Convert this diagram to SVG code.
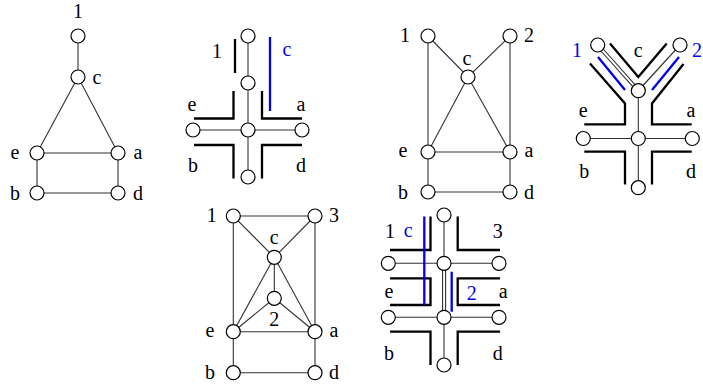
<svg xmlns="http://www.w3.org/2000/svg" width="703" height="388" viewBox="0 0 703 388" font-family="'Liberation Serif', 'Times New Roman', 'DejaVu Serif', serif">
<style>
.e{stroke:#333;stroke-width:1.1;fill:none}
.t{stroke:#000;stroke-width:2.3;fill:none}
.bl{stroke:#0000ee;stroke-width:2.3;fill:none}
.n{fill:#fff;stroke:#000;stroke-width:1.2}
text{font-family:'Liberation Serif','Times New Roman','DejaVu Serif',serif;font-size:20px;fill:#000;text-anchor:middle}
text.b{fill:#0000ee}
</style>
<rect width="703" height="388" fill="#fff"/>

<!-- Diagram 1 -->
<g id="d1-edges">
<path class="e" d="M78 36V77L37 153M78 77L118 153M37 153H118M37 153V193H118V153"/>
</g>
<g id="d1-n1"><circle class="n" cx="78" cy="36" r="7"/><text x="78" y="18">1</text></g>
<g id="d1-c"><circle class="n" cx="78" cy="77" r="7"/><text x="97" y="84">c</text></g>
<g id="d1-e"><circle class="n" cx="37" cy="153" r="7"/><text x="15" y="159">e</text></g>
<g id="d1-a"><circle class="n" cx="118" cy="153" r="7"/><text x="138" y="159">a</text></g>
<g id="d1-b"><circle class="n" cx="37" cy="193" r="7"/><text x="15" y="200">b</text></g>
<g id="d1-d"><circle class="n" cx="118" cy="193" r="7"/><text x="138" y="200">d</text></g>

<!-- Diagram 2 -->
<g id="d2-edges">
<path class="e" d="M248 36V177M193 130H302"/>
<path class="t" d="M235 39V73M233.5 91V118.5H194M262 91V118.5H302M194 145H233.5V178.5M302 145H262V178.5"/>
<path class="bl" d="M270 37V111"/>
</g>
<g id="d2-top"><circle class="n" cx="248" cy="36" r="7"/></g>
<g id="d2-mid"><circle class="n" cx="248" cy="83" r="7"/></g>
<g id="d2-center"><circle class="n" cx="248" cy="130" r="7"/></g>
<g id="d2-left"><circle class="n" cx="193" cy="130" r="7"/></g>
<g id="d2-right"><circle class="n" cx="302" cy="130" r="7"/></g>
<g id="d2-bottom"><circle class="n" cx="248" cy="177" r="7"/></g>
<g id="d2-labels">
<text x="217" y="58">1</text><text class="b" x="287" y="56">c</text>
<text x="192" y="111">e</text><text x="301" y="111">a</text>
<text x="193" y="172">b</text><text x="301" y="172">d</text>
</g>

<!-- Diagram 3 -->
<g id="d3-edges">
<path class="e" d="M428 36V192H510V36L468 77L428 36M468 77L428 152M468 77L510 152M428 152H510"/>
</g>
<g id="d3-n1"><circle class="n" cx="428" cy="36" r="7"/><text x="405" y="42">1</text></g>
<g id="d3-n2"><circle class="n" cx="510" cy="36" r="7"/><text x="529" y="42">2</text></g>
<g id="d3-c"><circle class="n" cx="468" cy="77" r="7"/><text x="467" y="65">c</text></g>
<g id="d3-e"><circle class="n" cx="428" cy="152" r="7"/><text x="403" y="157">e</text></g>
<g id="d3-a"><circle class="n" cx="510" cy="152" r="7"/><text x="529" y="157">a</text></g>
<g id="d3-b"><circle class="n" cx="428" cy="192" r="7"/><text x="403" y="199">b</text></g>
<g id="d3-d"><circle class="n" cx="510" cy="192" r="7"/><text x="529" y="199">d</text></g>

<!-- Diagram 4 -->
<g id="d4-edges">
<path class="e" d="M596.6 46L637.2 91.7M598.8 44L639.4 89.7M678.9 46L637.2 91.7M681.1 44L639.4 89.7M638.3 91V188M583 138.5H692"/>
<path class="t" d="M610 43.5L638.3 77L666.7 43.5M590 63.5L625 103.5V124.3H584.3M683.5 64L652 103.5V124.3H691.7M584.3 151.7H625V184.5M691.7 151.7H652V184.5"/>
<path class="bl" d="M598 57L625 90M679 57L652 90"/>
</g>
<g id="d4-n1"><circle class="n" cx="597.7" cy="45" r="7"/></g>
<g id="d4-n2"><circle class="n" cx="680" cy="45" r="7"/></g>
<g id="d4-c"><circle class="n" cx="638.3" cy="90.7" r="7"/></g>
<g id="d4-center"><circle class="n" cx="638.3" cy="138.5" r="7"/></g>
<g id="d4-left"><circle class="n" cx="583.3" cy="138.5" r="7"/></g>
<g id="d4-right"><circle class="n" cx="692.3" cy="138.5" r="7"/></g>
<g id="d4-bottom"><circle class="n" cx="638.3" cy="187.7" r="7"/></g>
<g id="d4-labels">
<text class="b" x="577" y="57">1</text><text class="b" x="697" y="57">2</text>
<text x="638.3" y="57">c</text>
<text x="583.3" y="117">e</text><text x="691" y="117">a</text>
<text x="584.3" y="178">b</text><text x="691" y="178">d</text>
</g>

<!-- Diagram 5 -->
<g id="d5-edges">
<path class="e" d="M233.3 216H315V372.7H233.3V216L274.3 257.3L315 216M274.3 257.3L233.3 331.7M274.3 257.3L315 331.7M274.3 257.3V298.3L233.3 331.7M274.3 298.3L315 331.7M233.3 331.7H315"/>
</g>
<g id="d5-n1"><circle class="n" cx="233.3" cy="216" r="7"/><text x="211.7" y="222">1</text></g>
<g id="d5-n3"><circle class="n" cx="315" cy="216" r="7"/><text x="334" y="222">3</text></g>
<g id="d5-c"><circle class="n" cx="274.3" cy="257.3" r="7"/><text x="274.3" y="244">c</text></g>
<g id="d5-n2"><circle class="n" cx="274.3" cy="298.3" r="7"/><text x="274.3" y="326">2</text></g>
<g id="d5-e"><circle class="n" cx="233.3" cy="331.7" r="7"/><text x="210" y="337">e</text></g>
<g id="d5-a"><circle class="n" cx="315" cy="331.7" r="7"/><text x="334" y="337">a</text></g>
<g id="d5-b"><circle class="n" cx="233.3" cy="372.7" r="7"/><text x="210" y="379">b</text></g>
<g id="d5-d"><circle class="n" cx="315" cy="372.7" r="7"/><text x="334" y="379">d</text></g>

<!-- Diagram 6 -->
<g id="d6-edges">
<path class="e" d="M444 215V263.3M442.6 263.3V317.3M445.6 263.3V317.3M444 317.3V365M388.3 263.3H499M388.3 317.3H499"/>
<path class="t" d="M430.5 216.5V250H390M457.7 216.5V250H500M390 278.3H430.5V305H390M500 278.3H457.7V305H500M390 331.7H430.5V365M500 331.7H457.7V365"/>
<path class="bl" d="M424.3 216.5V305M451.7 271.7V311.7"/>
</g>
<g id="d6-top"><circle class="n" cx="444" cy="215" r="7"/></g>
<g id="d6-uc"><circle class="n" cx="444" cy="263.3" r="7"/></g>
<g id="d6-ul"><circle class="n" cx="388.3" cy="263.3" r="7"/></g>
<g id="d6-ur"><circle class="n" cx="499" cy="263.3" r="7"/></g>
<g id="d6-lc"><circle class="n" cx="444" cy="317.3" r="7"/></g>
<g id="d6-ll"><circle class="n" cx="388.3" cy="317.3" r="7"/></g>
<g id="d6-lr"><circle class="n" cx="499" cy="317.3" r="7"/></g>
<g id="d6-bottom"><circle class="n" cx="444" cy="365" r="7"/></g>
<g id="d6-labels">
<text x="390" y="238">1</text><text class="b" x="408.3" y="237">c</text><text x="497.7" y="238">3</text>
<text x="389" y="298">e</text><text class="b" x="471.7" y="300">2</text><text x="503.3" y="298">a</text>
<text x="389" y="360">b</text><text x="497.7" y="360">d</text>
</g>
</svg>
